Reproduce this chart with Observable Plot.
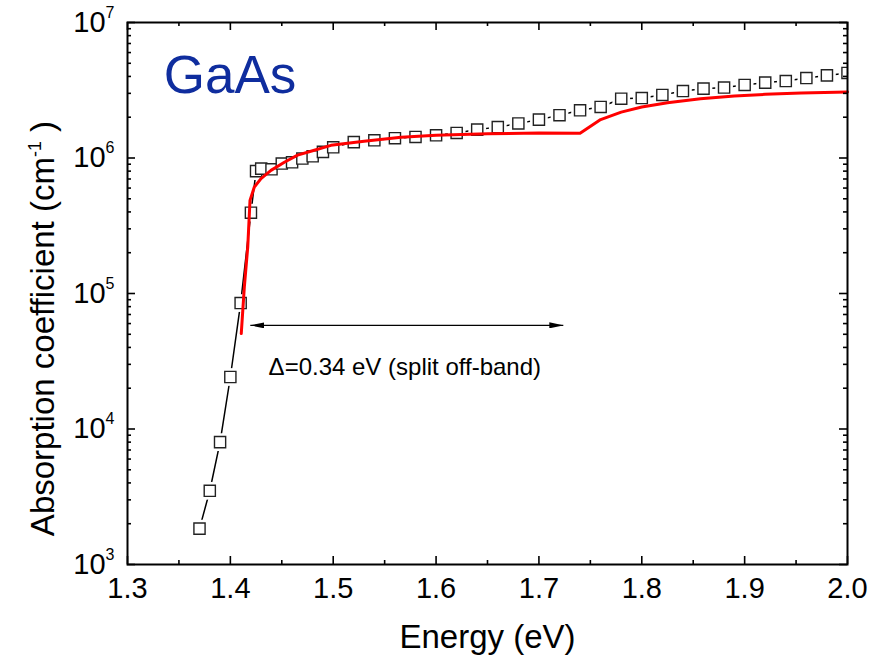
<!DOCTYPE html>
<html><head><meta charset="utf-8">
<script src="https://cdn.jsdelivr.net/npm/d3@7"></script>
<script src="https://cdn.jsdelivr.net/npm/@observablehq/plot@0.6"></script>
<style>
body{margin:0;background:#fff}
svg{font-family:"Liberation Sans",Arial,sans-serif}
</style>
</head><body><div id="chart"></div>
<script>
// Measured absorption (black open squares)
const energy = [1.37,1.38,1.39,1.40,1.41,1.42,1.425,1.43,1.44,1.45,1.46,1.47,1.48,1.49,1.50,
  1.52,1.54,1.56,1.58,1.60,1.62,1.64,1.66,1.68,1.70,1.72,1.74,1.76,1.78,1.80,1.82,1.84,1.86,
  1.88,1.90,1.92,1.94,1.96,1.98,2.00];
const alpha = [1840,3500,8000,24200,85000,395000,800000,835000,825000,910000,930000,990000,1030000,1110000,1200000,
  1310000,1350000,1400000,1430000,1470000,1530000,1620000,1690000,1800000,1920000,2070000,2250000,2380000,2740000,2770000,2920000,3120000,3250000,
  3310000,3460000,3600000,3700000,3890000,4070000,4240000];
// Calculated absorption (red line)
const fitEnergy = [1.4106,1.4136,1.4169,1.4191,1.4233,1.4298,1.4395,1.4525,1.4654,1.4816,1.4978,1.53,1.566,1.60,1.65,1.70,1.74,1.76,1.78,1.80,1.825,1.857,1.89,1.92,1.955,2.00];
const fitAlpha = [50600,112000,220000,487000,610000,705000,810000,930000,1050000,1140000,1240000,1330000,1420000,1470000,1510000,1530000,1520000,1920000,2180000,2380000,2560000,2740000,2870000,2950000,3020000,3070000];
// Annotations
const arrowX = [1.4194, 1.7237];
const arrowY = [58200, 58200];
const deltaLabel = ["\u0394=0.34 eV (split off-band)"];
const deltaPos = [1.5696, 28300];
const materialLabel = ["GaAs"];
const materialPos = [1.3353, 4000000];
// Axes
const xTicks = [1.3,1.4,1.5,1.6,1.7,1.8,1.9,2.0];
const xMinor = [1.35,1.45,1.55,1.65,1.75,1.85,1.95];
const yTicks = [1e3,1e4,1e5,1e6,1e7];
const yExponents = ["3","4","5","6","7"];
const yMinor = [];
for (let e = 3; e < 7; e++) for (let m = 2; m <= 9; m++) yMinor.push(m * 10 ** e);
const xLabel = "Energy (eV)";
const yLabel = "Absorption coefficient (cm";

const measured = energy.map((e, i) => ({e, a: alpha[i]}));
const fit = fitEnergy.map((e, i) => ({e, a: fitAlpha[i]}));

const W = 871, H = 663, mL = 127, mR = 24, mT = 22, mB = 99;
const fw = W - mL - mR, fh = H - mT - mB;
const major = 8, minor = 4;
const ARROW_COLOR = "#010101";

const plot = Plot.plot({
  width: W, height: H,
  marginLeft: mL, marginRight: mR, marginTop: mT, marginBottom: mB,
  x: {domain: [1.3, 2.0]},
  y: {type: "log", domain: [1e3, 1e7]},
  style: {fontFamily: "'Liberation Sans', Arial, sans-serif", fontSize: "29px", color: "#000", background: "#fff", overflow: "visible"},
  marks: [
    Plot.line(measured, {x: "e", y: "a", stroke: "#000", strokeWidth: 1.5}),
    Plot.dot(measured, {x: "e", y: "a", symbol: "square", r: 10, fill: "#fff", stroke: "none", clip: true}),
    Plot.dot(measured, {x: "e", y: "a", symbol: "square", r: 6.3, fill: "#fff", stroke: "#222", strokeWidth: 1.4, clip: true}),
    Plot.line(fit, {x: "e", y: "a", stroke: "#ff0000", strokeWidth: 3}),
    Plot.link([0], {x1: () => arrowX[0], x2: () => arrowX[1], y1: () => arrowY[0], y2: () => arrowY[1], stroke: ARROW_COLOR, strokeWidth: 1.4}),
    Plot.text(deltaLabel, {x: () => deltaPos[0], y: () => deltaPos[1], text: d => d, fontSize: 24, fill: "#000"}),
    Plot.text(materialLabel, {x: () => materialPos[0], y: () => materialPos[1], text: d => d, fontSize: 53, fill: "#0f2d9e", textAnchor: "start"}),
    // inward ticks, mirrored
    Plot.tickX(xTicks, {x: d => d, insetTop: fh - major, stroke: "#000", strokeWidth: 1.6}),
    Plot.tickX(xTicks, {x: d => d, insetBottom: fh - major, stroke: "#000", strokeWidth: 1.6}),
    Plot.tickX(xMinor, {x: d => d, insetTop: fh - minor, stroke: "#000", strokeWidth: 1.6}),
    Plot.tickX(xMinor, {x: d => d, insetBottom: fh - minor, stroke: "#000", strokeWidth: 1.6}),
    Plot.tickY(yTicks, {y: d => d, insetRight: fw - major, stroke: "#000", strokeWidth: 1.6}),
    Plot.tickY(yTicks, {y: d => d, insetLeft: fw - major, stroke: "#000", strokeWidth: 1.6}),
    Plot.tickY(yMinor, {y: d => d, insetRight: fw - minor, stroke: "#000", strokeWidth: 1.6}),
    Plot.tickY(yMinor, {y: d => d, insetLeft: fw - minor, stroke: "#000", strokeWidth: 1.6}),
    Plot.frame({stroke: "#000", strokeWidth: 2}),
    Plot.axisX({ticks: xTicks, tickSize: 0, tickPadding: 13, tickFormat: d3.format(".1f"), label: null, fontSize: 29}),
    Plot.axisY({ticks: yTicks, tickSize: 0, tickPadding: 13, tickFormat: d => yExponents[yTicks.indexOf(d)] ?? "", label: null, fontSize: 29}),
    Plot.text([xLabel], {frameAnchor: "bottom", dy: 83, text: d => d, fontSize: 33, fill: "#000"}),
    Plot.text([yLabel], {frameAnchor: "left", dx: -84, dy: 35, rotate: -90, textAnchor: "middle", text: d => d, fontSize: 33, fill: "#000"})
  ]
});

const svg = d3.select(plot);
// arrow heads
const defs = svg.append("defs");
defs.append("marker").attr("id", "ahead").attr("viewBox", "0 0 14 6")
  .attr("refX", 14).attr("refY", 3).attr("markerWidth", 14).attr("markerHeight", 6)
  .attr("markerUnits", "userSpaceOnUse").attr("orient", "auto-start-reverse")
  .append("path").attr("d", "M0,0L14,3L0,6Z").attr("fill", "#000");
svg.selectAll(`[stroke="${ARROW_COLOR}"] path, [stroke="${ARROW_COLOR}"] line, path[stroke="${ARROW_COLOR}"]`)
  .attr("marker-start", "url(#ahead)").attr("marker-end", "url(#ahead)");
// y tick labels as powers of ten
svg.selectAll('g[aria-label="y-axis tick label"] text').each(function() {
  const exp = this.textContent;
  const t = d3.select(this);
  t.text("10");
  t.append("tspan").attr("dy", -14).attr("font-size", 16).text(exp);
});
// y title superscript
svg.selectAll("text").filter(function() { return this.textContent === yLabel; }).each(function() {
  const t = d3.select(this);
  t.append("tspan").attr("dy", -13).attr("font-size", 18).text("-1");
  t.append("tspan").attr("dy", 13).text(" )");
});
document.getElementById("chart").appendChild(plot);
</script>
</body></html>
